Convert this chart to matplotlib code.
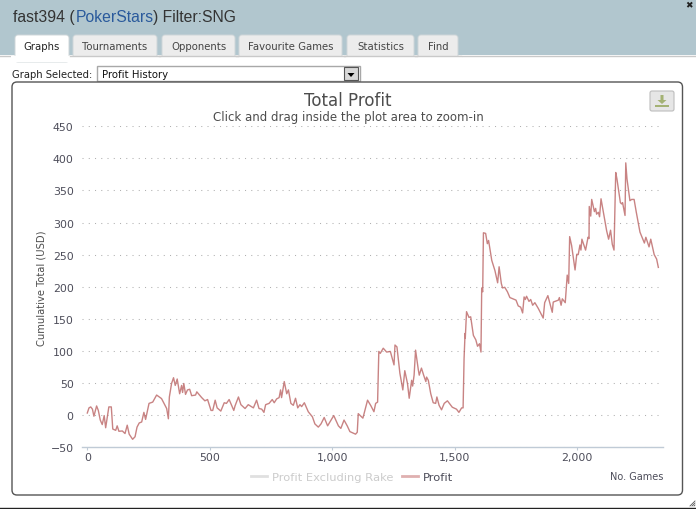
import matplotlib
matplotlib.use("Agg")
import matplotlib.pyplot as plt
from matplotlib.patches import FancyBboxPatch, Rectangle, Polygon
from matplotlib.lines import Line2D
from matplotlib.ticker import FuncFormatter

# values
games = [0, 7, 14, 21, 27, 38, 45, 53, 61, 69, 75, 88, 98, 104, 116, 122, 129, 143, 154, 163,
         171, 185, 195, 203, 212, 222, 231, 238, 252, 267, 283, 303, 324, 331, 335, 344, 352, 359,
         367, 377, 385, 389, 394, 401, 409, 418, 426, 442, 447, 467, 480, 491, 505, 512, 522, 530,
         545, 559, 568, 579, 589, 598,
         603, 617, 627, 644, 657, 678, 691, 701, 712, 721, 728, 742, 755, 763, 773, 783, 789, 793,
         804, 814, 821, 831, 841, 850, 859, 868, 875, 886, 902, 919, 929, 943, 954, 967, 981, 1006,
         1025, 1035, 1048, 1061, 1072, 1095, 1102, 1106, 1125, 1144, 1158, 1170, 1177, 1185,
         1190, 1196, 1208, 1222, 1237, 1252, 1256, 1264, 1276, 1288, 1296, 1307, 1314, 1324, 1328,
         1334, 1340, 1351, 1355, 1364, 1373, 1382, 1385, 1392, 1402, 1412, 1422, 1427, 1436, 1446,
         1457, 1470, 1490, 1507, 1517, 1528, 1534,
         1538, 1542, 1543, 1548, 1558, 1565, 1576, 1586, 1593, 1601, 1607,
         1610, 1614, 1617, 1626, 1633, 1638, 1651, 1664, 1675, 1681, 1690, 1695, 1704, 1715, 1725,
         1750, 1759, 1769, 1777, 1783, 1788, 1793, 1803, 1810, 1818, 1827, 1841, 1861, 1867, 1880,
         1898, 1902, 1923, 1927, 1934, 1939, 1951, 1959, 1965,
         1969, 1977, 1991, 1998, 2004, 2011, 2015, 2019, 2034, 2044, 2048, 2049, 2055, 2059, 2070,
         2075, 2079, 2086, 2091, 2097, 2110, 2120, 2128, 2136, 2143, 2150, 2157, 2162, 2176, 2181,
         2185, 2195, 2198, 2203, 2215, 2222, 2232, 2241, 2256, 2274, 2280, 2293, 2300, 2314, 2324,
         2331]
profit = [3, 11, 12.5, 9, -2, 14, 7, -8, -15, -1, -20, 12.5, 12.5, -22, -24, -17, -25.5, -25, -29, -16,
          -30, -38, -34, -19, -12.5, -11, 4, -7, 18, 20, 31, 25.5, 10, -6, 28, 49, 58, 46,
          56, 33, 46, 35, 49, 32, 39, 40, 30, 31, 36, 27, 22, 24, 7, 7, 23, 11,
          6, 19, 18, 24, 15, 7,
          14, 28, 16, 10, 16, 11, 23, 10, 9, 4, 16, 18, 24, 19, 25, 27, 39, 27,
          52, 33, 39, 18, 15, 26, 11, 16, 13, 19, 5, -3, -14, -19, -14, -4, -17, -1,
          -17, -21, -8, -17, -26, -30, -27, 2, -5, 23, 14, 5, 18, 20,
          99, 96, 104, 98, 99, 78, 109, 106, 65, 39, 69, 49, 26, 54, 45,
          62, 101, 71, 62, 73, 62, 52, 59, 54, 33, 19, 18, 28, 15, 8,
          18, 22, 12, 9, 4, 11, 11,
          88, 127, 120, 161, 152, 153, 124, 117, 107, 111, 98,
          198, 192, 284, 283, 267, 272, 241, 225, 206, 231, 205, 198, 199, 192, 183,
          179, 170, 168, 159, 184, 180, 185, 177, 180, 171, 175, 166, 151, 175, 186,
          160, 176, 179, 183, 171, 181, 175, 218, 205,
          278, 264, 226, 250.5, 250, 265, 257, 274, 257, 277, 275, 325, 310, 336, 317,
          322, 313, 316, 309, 337, 309, 287, 274, 288, 266, 257, 378, 368, 331, 329,
          331, 311, 393, 368, 334, 336, 336, 316, 285, 268, 277, 262, 274, 250, 243,
          230]
x_ticks = [0, 500, 1000, 1500, 2000]
y_ticks = [-50, 0, 50, 100, 150, 200, 250, 300, 350, 400, 450]
tab_names = ["Graphs", "Tournaments", "Opponents", "Favourite Games", "Statistics", "Find"]

W, H = 696, 510
fig = plt.figure(figsize=(W / 100, H / 100), dpi=100, facecolor="white")

# page chrome drawn in pixel coordinates
bg = fig.add_axes([0, 0, 1, 1])
bg.set_xlim(0, W)
bg.set_ylim(H, 0)
bg.axis("off")

bg.add_patch(Rectangle((0, 0), W, 56, color="#b1c6ce", lw=0))
bg.plot([0, W], [56.5, 56.5], color="#c9c9c9", lw=1)
bg.text(13, 17.5, "fast394 (", fontsize=11.3, family="Liberation Sans", color="#333333", va="center")
bg.text(75.5, 17.5, "PokerStars", fontsize=11.3, family="Liberation Sans", color="#2a5a9c", va="center")
bg.text(153, 17.5, ") Filter:SNG", fontsize=11.3, family="Liberation Sans", color="#333333", va="center")
bg.text(689, 5.5, "✖", fontsize=6.5, color="#222222", ha="center", va="center")

tab_edges = [(15, 69), (73, 157), (162, 235), (239, 342), (347, 414), (418, 458)]
for i, (name, (x0, x1)) in enumerate(zip(tab_names, tab_edges)):
    active = i == 0
    top = 36
    bottom = 57 if active else 56
    bg.add_patch(FancyBboxPatch((x0 + 3, top + 3), x1 - x0 - 6, bottom - top, boxstyle="round,pad=3",
                                fc="white" if active else "#ececec", ec="#cfd6d9", lw=0.7, zorder=2))
    bg.add_patch(Rectangle((x0 - 4, 57), x1 - x0 + 8, 6, color="white", lw=0, zorder=3))
    bg.plot([x0 - 3, x1 + 3], [56.5, 56.5], color="white" if active else "#c9c9c9", lw=1, zorder=4)
    bg.text((x0 + x1) / 2, 46.5, name, fontsize=7.3, color="#222222" if active else "#444444",
            ha="center", va="center", zorder=5)

bg.text(12, 74.5, "Graph Selected:", fontsize=7.2, color="#222222", va="center")
bg.add_patch(Rectangle((96.5, 66.5), 263, 15, fc="white", ec="#a8a8a8", lw=1))
bg.text(102, 74.5, "Profit History", fontsize=7.3, color="#111111", va="center")
bg.add_patch(Rectangle((344, 68), 14, 13, fc="#d8d8d8", ec="#555555", lw=0.8))
bg.add_patch(Polygon([(347.5, 74), (354.5, 74), (351, 78)], color="black", lw=0))

# chart panel
bg.add_patch(FancyBboxPatch((17, 88), 660.5, 403, boxstyle="round,pad=5", fc="white", ec="#555555", lw=1))
bg.add_patch(FancyBboxPatch((652, 94), 20, 16, boxstyle="round,pad=2", fc="#e6e6e6", ec="#bdbdbd", lw=0.8))
bg.add_patch(Polygon([(660.5, 96), (663.5, 96), (663.5, 101), (666.5, 101), (662, 105), (657.5, 101), (660.5, 101)],
                     color="#a4b274", lw=0))
bg.add_patch(Rectangle((655, 106), 14, 2, color="#a4b274", lw=0))

bg.text(348, 101, "Total Profit", fontsize=12, color="#4d4d4d", ha="center", va="center")
bg.text(348.5, 118, "Click and drag inside the plot area to zoom-in", fontsize=8.45, color="#4d4d4d",
        ha="center", va="center")
bg.text(636.5, 477, "No. Games", fontsize=7, color="#4d4d5a", ha="center", va="center")
bg.text(41, 288, "Cumulative Total (USD)", fontsize=7.2, color="#4d4d4d", rotation=90,
        ha="center", va="center")

# resize grip and bottom border
bg.plot([0, W], [508.5, 508.5], color="#222222", lw=1)
for k in range(3):
    bg.plot([695, 690 + k * 2], [502 + k * 2, 507], color="#555555", lw=0.6)

# plot area
left, right, top, bottom = 82, 663, 127.3, 448
ax = fig.add_axes([left / W, 1 - bottom / H, (right - left) / W, (bottom - top) / H])
ax.patch.set_alpha(0)
ax.plot(games, profit, color="#b65a5a", lw=1.0, alpha=0.75, solid_joinstyle="round")
ax.set_xlim(-21.6, 2350)
ax.set_ylim(-50, 450)
ax.set_xticks(x_ticks)
ax.set_yticks(y_ticks)
ax.xaxis.set_major_formatter(FuncFormatter(lambda v, p: f"{int(v):,}"))
ax.grid(axis="y", color="#b0b0b0", linestyle=(0, (1, 5)), lw=0.75)
ax.grid(axis="x", visible=False)
ax.set_axisbelow(True)
for s in ["top", "right", "left"]:
    ax.spines[s].set_visible(False)
ax.spines["bottom"].set_color("#c0cbd6")
ax.spines["bottom"].set_linewidth(1)
ax.tick_params(axis="x", length=2.2, color="#c0cbd6", labelsize=7.9, labelcolor="#4d4d5a", pad=1.5)
ax.tick_params(axis="y", length=0, labelsize=7.9, labelcolor="#4d4d5a", pad=6)

handles = [Line2D([], [], color="#e0e0e0", lw=2), Line2D([], [], color="#dfb0b0", lw=2)]
leg = fig.legend(handles, ["Profit Excluding Rake", "Profit"], ncol=2, frameon=False, fontsize=8.25,
                 loc="center", bbox_to_anchor=(352 / W, 1 - 478 / H), handlelength=1.4, columnspacing=0.7,
                 handletextpad=0.44)
leg.get_texts()[0].set_color("#cccccc")
leg.get_texts()[1].set_color("#4d4d5a")

fig.savefig("out.png", dpi=100)
